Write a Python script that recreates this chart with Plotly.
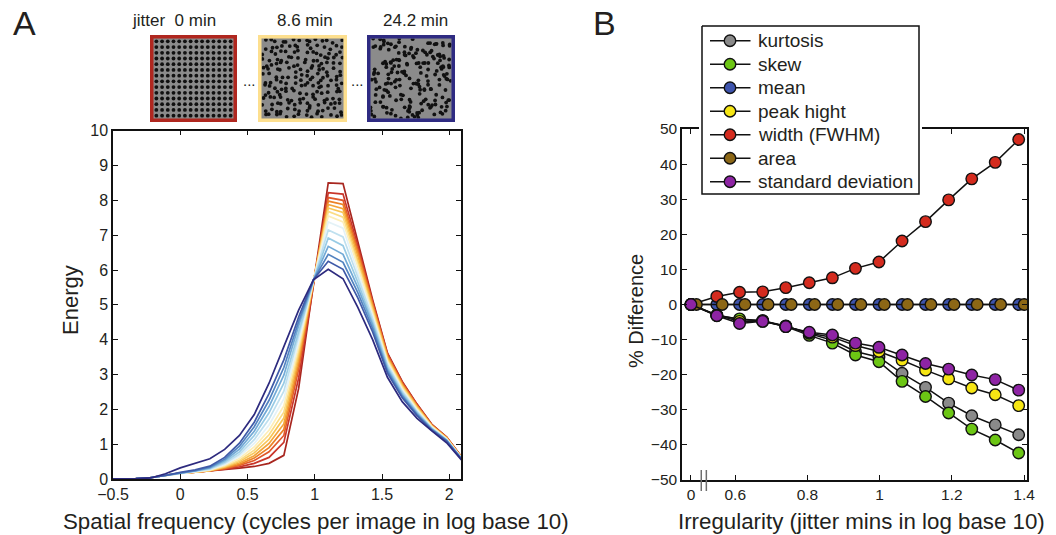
import math
import plotly.graph_objects as go

W, H = 1056, 535
FONT = "Liberation Sans, Arial, Helvetica, sans-serif"
TXT = "#231f20"

# ---------------- Panel A data: energy spectra ----------------
freq_log10 = [-0.55, -0.44, -0.33, -0.22, -0.11, 0.0, 0.11, 0.22, 0.33, 0.44, 0.55,
              0.66, 0.77, 0.88, 0.99, 1.10, 1.21, 1.32, 1.43, 1.54, 1.65, 1.76,
              1.87, 1.98, 2.09]
jitter_min = [0, 3.5, 4.1, 4.7, 5.5, 6.4, 7.4, 8.6, 9.9, 11.5, 13.4, 15.5, 18.0, 20.9, 24.2]

spectrum_j00 = [0, 0, 0.01, 0.04, 0.10, 0.17, 0.20, 0.23, 0.27, 0.31, 0.36, 0.45, 0.68, 2.60, 5.60, 8.50, 8.48, 6.80, 5.15, 3.62, 2.80, 2.15, 1.57, 1.20, 0.64]
spectrum_j01 = [0, 0, 0.01, 0.04, 0.10, 0.17, 0.20, 0.23, 0.28, 0.35, 0.45, 0.62, 1.05, 2.90, 5.62, 8.22, 8.18, 6.70, 5.10, 3.60, 2.78, 2.14, 1.56, 1.20, 0.64]
spectrum_j02 = [0, 0, 0.01, 0.04, 0.10, 0.17, 0.20, 0.23, 0.30, 0.39, 0.53, 0.78, 1.25, 3.15, 5.63, 8.08, 8.00, 6.60, 5.05, 3.57, 2.76, 2.12, 1.55, 1.19, 0.63]
spectrum_j03 = [0, 0, 0.01, 0.04, 0.10, 0.17, 0.20, 0.24, 0.31, 0.42, 0.60, 0.90, 1.42, 3.30, 5.64, 7.98, 7.88, 6.50, 5.00, 3.53, 2.73, 2.10, 1.54, 1.19, 0.63]
spectrum_j04 = [0, 0, 0.01, 0.04, 0.10, 0.17, 0.20, 0.24, 0.33, 0.46, 0.67, 1.02, 1.58, 3.45, 5.65, 7.88, 7.76, 6.40, 4.95, 3.50, 2.70, 2.08, 1.53, 1.18, 0.62]
spectrum_j05 = [0, 0, 0.01, 0.04, 0.10, 0.17, 0.20, 0.25, 0.35, 0.50, 0.75, 1.14, 1.75, 3.58, 5.66, 7.78, 7.65, 6.30, 4.88, 3.46, 2.67, 2.06, 1.52, 1.17, 0.62]
spectrum_j06 = [0, 0, 0.01, 0.04, 0.10, 0.17, 0.20, 0.25, 0.37, 0.54, 0.83, 1.27, 1.92, 3.70, 5.67, 7.68, 7.52, 6.20, 4.82, 3.42, 2.64, 2.03, 1.51, 1.16, 0.61]
spectrum_j07 = [0, 0, 0.01, 0.04, 0.10, 0.17, 0.21, 0.26, 0.39, 0.59, 0.92, 1.40, 2.10, 3.82, 5.68, 7.55, 7.38, 6.10, 4.75, 3.38, 2.60, 2.00, 1.50, 1.15, 0.61]
spectrum_j08 = [0, 0, 0.01, 0.04, 0.10, 0.17, 0.21, 0.27, 0.42, 0.65, 1.02, 1.55, 2.30, 3.95, 5.69, 7.38, 7.20, 5.95, 4.68, 3.33, 2.56, 1.97, 1.48, 1.14, 0.60]
spectrum_j09 = [0, 0, 0.01, 0.04, 0.10, 0.17, 0.21, 0.28, 0.45, 0.71, 1.13, 1.72, 2.52, 4.10, 5.70, 7.15, 6.95, 5.80, 4.60, 3.28, 2.52, 1.94, 1.46, 1.13, 0.60]
spectrum_j10 = [0, 0, 0.01, 0.04, 0.10, 0.17, 0.22, 0.30, 0.49, 0.78, 1.25, 1.90, 2.75, 4.25, 5.70, 6.92, 6.70, 5.65, 4.50, 3.22, 2.47, 1.91, 1.45, 1.12, 0.59]
spectrum_j11 = [0, 0, 0.01, 0.04, 0.10, 0.17, 0.23, 0.32, 0.53, 0.86, 1.37, 2.08, 2.98, 4.40, 5.71, 6.68, 6.45, 5.50, 4.42, 3.16, 2.42, 1.88, 1.43, 1.11, 0.59]
spectrum_j12 = [0, 0, 0.01, 0.04, 0.10, 0.18, 0.24, 0.34, 0.57, 0.94, 1.50, 2.26, 3.20, 4.52, 5.71, 6.45, 6.22, 5.35, 4.32, 3.10, 2.38, 1.85, 1.42, 1.10, 0.58]
spectrum_j13 = [0, 0, 0.01, 0.04, 0.10, 0.19, 0.26, 0.37, 0.62, 1.03, 1.63, 2.45, 3.42, 4.65, 5.72, 6.25, 6.02, 5.20, 4.22, 3.04, 2.33, 1.82, 1.40, 1.08, 0.57]
spectrum_j14 = [0, 0, 0.01, 0.03, 0.15, 0.32, 0.45, 0.58, 0.85, 1.25, 1.85, 2.75, 3.80, 4.85, 5.72, 6.02, 5.75, 4.93, 4.00, 2.92, 2.22, 1.74, 1.38, 1.04, 0.55]

spectra = [spectrum_j00, spectrum_j01, spectrum_j02, spectrum_j03, spectrum_j04,
           spectrum_j05, spectrum_j06, spectrum_j07, spectrum_j08, spectrum_j09,
           spectrum_j10, spectrum_j11, spectrum_j12, spectrum_j13, spectrum_j14]

spectrum_colors = ["#a8261f", "#c9352a", "#e0592b", "#ec8126", "#f3a43a", "#f8c556",
                   "#fbdc85", "#fdeeb8", "#e4f2f7", "#bfe0ef", "#98cbe5", "#72aad6",
                   "#5283c0", "#3f5aa8", "#2d2a7e"]

# Thumbnails of the stimuli
thumb_labels = ["jitter\u00a0\u00a00 min", "8.6 min", "24.2 min"]
thumb_jitter_cells = [0.0, 0.4, 1.6]
thumb_frame_colors = ["#b0271f", "#fddf8e", "#2f2b82"]

# ---------------- Panel B data: % difference ----------------
irregularity_log10 = [0.549, 0.612, 0.676, 0.740, 0.805, 0.869, 0.933, 0.998,
                      1.062, 1.127, 1.191, 1.255, 1.320, 1.385]
zero_tick_pos = 0.4775  # where the "0" jitter condition sits on the broken axis

kurtosis = [0, -3.0, -4.3, -4.6, -6.1, -8.3, -10.2, -13.4, -15.0, -19.6, -23.6, -28.1, -31.7, -34.3, -37.1]
skew = [0, -3.1, -4.1, -4.6, -6.3, -8.8, -11.0, -14.4, -16.3, -21.9, -26.2, -30.9, -35.5, -38.6, -42.3]
mean = [0] * 15
peak_hight = [0, -3.1, -4.8, -4.8, -6.2, -8.2, -9.3, -11.7, -13.4, -15.9, -18.7, -21.2, -23.8, -25.7, -28.8]
width_fwhm = [0, 2.3, 3.5, 3.6, 4.8, 6.2, 7.6, 10.3, 12.1, 18.1, 23.6, 29.8, 35.8, 40.5, 47.0]
area = [0] * 15
std_dev = [0, -3.2, -5.4, -4.8, -6.3, -7.9, -8.7, -11.0, -12.2, -14.4, -16.8, -18.4, -20.1, -21.4, -24.4]

series_names = ["kurtosis", "skew", "mean", "peak hight", "width (FWHM)", "area", "standard deviation"]
series_values = [kurtosis, skew, mean, peak_hight, width_fwhm, area, std_dev]
series_colors = ["#8a8a8a", "#6cc614", "#3e54ad", "#f6e614", "#d42b1e", "#8c6716", "#8e24a4"]
series_dx = [0, 0, 0, 0, 0, 0.015, 0]

fig = go.Figure()


def px_x(p):
    return p / W


def px_y(p):
    return 1 - p / H


# ---- Panel A lines
for vals, col in zip(spectra, spectrum_colors):
    fig.add_trace(go.Scatter(x=freq_log10, y=vals, mode="lines", xaxis="x", yaxis="y",
                             line=dict(color=col, width=1.7), showlegend=False,
                             hoverinfo="skip"))

# ---- Panel B lines
xb = [zero_tick_pos] + irregularity_log10
for name, vals, col, dx in zip(series_names, series_values, series_colors, series_dx):
    fig.add_trace(go.Scatter(x=[v + dx for v in xb], y=vals, mode="lines+markers",
                             xaxis="x2", yaxis="y2", name=name, showlegend=False,
                             line=dict(color="#111111", width=1.5),
                             marker=dict(size=11.5, color=col,
                                         line=dict(color="#111111", width=1.4))))


# ---- Thumbnails
def hsh(a, b, c):
    v = math.sin(a * 127.1 + b * 311.7 + c * 74.7) * 43758.5453
    return v - math.floor(v)


thumb_boxes = [(150, 237), (258, 347), (367, 455)]
thumb_top, thumb_bot = 35, 122
shapes = []
annotations = []
N = 14
for t, ((x0, x1), amp, fcol) in enumerate(zip(thumb_boxes, thumb_jitter_cells, thumb_frame_colors)):
    lw = 3.5
    ix0, ix1 = x0 + lw, x1 - lw
    iy0, iy1 = thumb_top + lw, thumb_bot - lw
    xs, ys = [], []
    for i in range(N):
        for j in range(N):
            ddx = amp * (2 * hsh(i, j, 1 + t) - 1)
            ddy = amp * (2 * hsh(j, i, 7 + t) - 1)
            xs.append(((i + 0.5 + ddx) / N) % 1.0)
            ys.append(((j + 0.5 + ddy) / N) % 1.0)
    k = t + 3
    fig.add_trace(go.Scatter(x=xs, y=ys, mode="markers", xaxis=f"x{k}", yaxis=f"y{k}",
                             marker=dict(size=3.8, color="#111111"), showlegend=False,
                             hoverinfo="skip"))
    fig.layout[f"xaxis{k}"] = dict(domain=[px_x(ix0), px_x(ix1)], range=[0, 1], visible=False,
                                   anchor=f"y{k}", fixedrange=True, automargin=False)
    fig.layout[f"yaxis{k}"] = dict(domain=[px_y(iy1), px_y(iy0)], range=[0, 1], visible=False,
                                   anchor=f"x{k}", fixedrange=True, automargin=False)
    shapes.append(dict(type="rect", xref="paper", yref="paper", layer="below",
                       x0=px_x(x0), x1=px_x(x1), y0=px_y(thumb_bot), y1=px_y(thumb_top),
                       fillcolor="#8b8b8b", line=dict(width=0)))
    shapes.append(dict(type="rect", xref="paper", yref="paper", layer="above",
                       x0=px_x(x0 + lw / 2), x1=px_x(x1 - lw / 2),
                       y0=px_y(thumb_bot - lw / 2), y1=px_y(thumb_top + lw / 2),
                       line=dict(color=fcol, width=lw)))

label_cx = [174, 305, 415]
for lab, cx in zip(thumb_labels, label_cx):
    annotations.append(dict(text=lab, x=px_x(cx), y=px_y(20), xref="paper", yref="paper",
                            showarrow=False, font=dict(size=17, color=TXT, family=FONT),
                            xanchor="center", yanchor="middle"))
for cx in [249, 357]:
    annotations.append(dict(text="...", x=px_x(cx), y=px_y(80), xref="paper", yref="paper",
                            showarrow=False, font=dict(size=15, color=TXT, family=FONT),
                            xanchor="center", yanchor="middle"))

# ---- Custom legend (own small axis so its box covers the frame of panel B)
LEG_X0, LEG_X1, LEG_Y0, LEG_Y1 = 702, 919, 26, 194
leg_row0, leg_step = 40.7, 23.5
leg_line_x0, leg_line_x1, leg_mark_x, leg_text_x = 710, 750.5, 730, 756
fig.add_trace(go.Scatter(x=[LEG_X0, LEG_X1, LEG_X1, LEG_X0, LEG_X0],
                         y=[LEG_Y0, LEG_Y0, LEG_Y1, LEG_Y1, LEG_Y0],
                         mode="lines", fill="toself", fillcolor="white",
                         line=dict(color="#111111", width=1.5),
                         xaxis="x6", yaxis="y6", showlegend=False, hoverinfo="skip"))
for i, (name, col) in enumerate(zip(series_names, series_colors)):
    yc = leg_row0 + leg_step * i
    fig.add_trace(go.Scatter(x=[leg_line_x0, leg_line_x1], y=[yc, yc], mode="lines",
                             line=dict(color="#111111", width=1.5),
                             xaxis="x6", yaxis="y6", showlegend=False, hoverinfo="skip"))
    fig.add_trace(go.Scatter(x=[leg_mark_x], y=[yc], mode="markers",
                             marker=dict(size=11.5, color=col, line=dict(color="#111111", width=1.4)),
                             xaxis="x6", yaxis="y6", showlegend=False, hoverinfo="skip"))
    annotations.append(dict(text=name, x=px_x(leg_text_x), y=px_y(yc), xref="paper", yref="paper",
                            showarrow=False, xanchor="left", yanchor="middle",
                            font=dict(size=19, color=TXT, family=FONT)))

# Panel letters & axis titles
titles = [
    dict(text="A", x=px_x(24), y=px_y(23), font=dict(size=34, color=TXT, family=FONT)),
    dict(text="B", x=px_x(604), y=px_y(23), font=dict(size=34, color=TXT, family=FONT)),
    dict(text="Spatial frequency (cycles per image in log base 10)", x=px_x(316), y=px_y(521),
         font=dict(size=22.3, color=TXT, family=FONT)),
    dict(text="Irregularity (jitter mins in log base 10)", x=px_x(861), y=px_y(521),
         font=dict(size=22.3, color=TXT, family=FONT)),
    dict(text="Energy", x=px_x(70), y=px_y(300), textangle=-90,
         font=dict(size=22, color=TXT, family=FONT)),
    dict(text="% Difference", x=px_x(636), y=px_y(311), textangle=-90,
         font=dict(size=20, color=TXT, family=FONT)),
]
for a in titles:
    a.update(xref="paper", yref="paper", showarrow=False, xanchor="center", yanchor="middle")
annotations += titles

# axis break marks on panel B x axis
for bx in [0.506, 0.520]:
    shapes.append(dict(type="line", xref="x2", yref="paper", x0=bx, x1=bx,
                       y0=px_y(491), y1=px_y(470), line=dict(color="#6e6e6e", width=1.5)))

axis_common = dict(showline=True, linecolor="#111111", linewidth=1.5, mirror="ticks",
                   ticks="inside", ticklen=5, tickwidth=1.2, tickcolor="#111111",
                   showgrid=False, zeroline=False, fixedrange=True, automargin=False)

fig.update_layout(
    width=W, height=H,
    margin=dict(l=0, r=0, t=0, b=0, pad=0, autoexpand=False),
    paper_bgcolor="white", plot_bgcolor="white",
    font=dict(family=FONT, color=TXT),
    xaxis=dict(domain=[px_x(113), px_x(461)], range=[-0.5, 2.087], anchor="y",
               tickvals=[-0.5, 0, 0.5, 1, 1.5, 2],
               ticktext=["\u22120.5", "0", "0.5", "1", "1.5", "2"],
               tickfont=dict(size=16, color=TXT), **axis_common),
    yaxis=dict(domain=[px_y(479), px_y(130.7)], range=[0, 10], anchor="x",
               tickvals=list(range(0, 11)), tickfont=dict(size=16, color=TXT), **axis_common),
    xaxis2=dict(domain=[px_x(682), px_x(1027)], range=[0.4526, 1.408], anchor="y2",
                tickvals=[zero_tick_pos, 0.6, 0.8, 1.0, 1.2, 1.4],
                ticktext=["0", "0.6", "0.8", "1", "1.2", "1.4"],
                tickfont=dict(size=15.5, color=TXT), **axis_common),
    yaxis2=dict(domain=[px_y(480), px_y(129)], range=[-50, 50], anchor="x2",
                tickvals=list(range(-50, 51, 10)),
                ticktext=[("\u2212" + str(-v)) if v < 0 else str(v) for v in range(-50, 51, 10)],
                tickfont=dict(size=15.5, color=TXT), **axis_common),
    xaxis6=dict(domain=[px_x(699), px_x(922)], range=[699, 922], anchor="y6",
                visible=False, fixedrange=True, automargin=False),
    yaxis6=dict(domain=[px_y(197), px_y(23)], range=[197, 23], anchor="x6",
                visible=False, fixedrange=True, automargin=False),
    shapes=shapes,
    annotations=annotations,
    showlegend=False,
)

fig.write_html("out.html")
